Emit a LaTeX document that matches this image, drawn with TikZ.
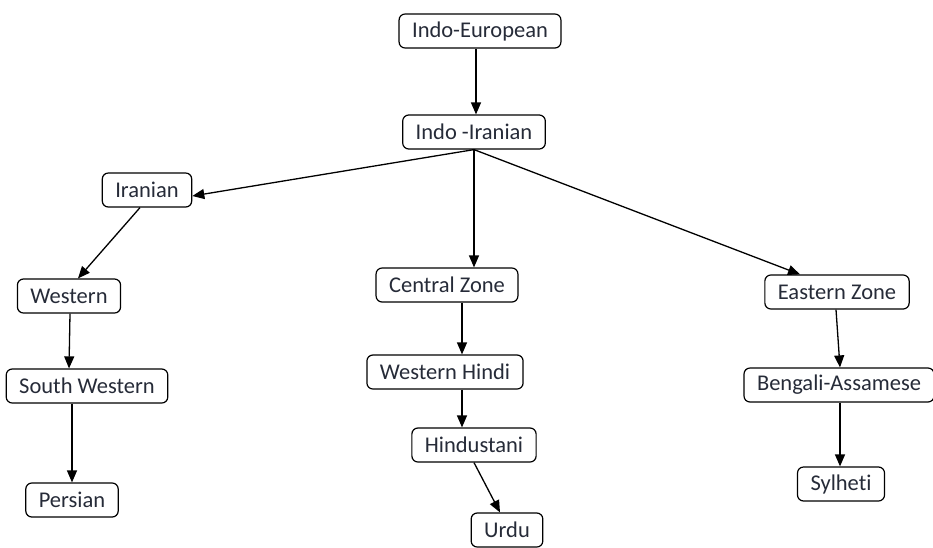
\documentclass[tikz,border=0pt]{standalone}
\usepackage{fontspec}
\setmainfont{Carlito}[Ligatures=NoCommon]
\usepackage{xcolor}
\usepackage{tikz}
\usetikzlibrary{arrows.meta}
\definecolor{ink}{HTML}{262B38}
\tikzset{
  box/.style={draw=black, line width=1.2pt, rounded corners=6pt, fill=white,
    text=ink, font=\fontsize{22.5}{26}\selectfont, inner xsep=13pt,
    minimum height=34pt, anchor=center},
  arr/.style={draw=black, line width=1.3pt,
    -{Triangle[length=12pt,width=10pt]}},
}
\begin{document}
\begin{tikzpicture}[x=1pt,y=-1pt]
  \useasboundingbox (0,0) rectangle (933,547);
  % nodes
  \node[box] (ie)    at (480,31)  {Indo-European};
  \node[box] (ii)    at (474,132) {Indo -Iranian};
  \node[box] (iran)  at (147,190) {Iranian};
  \node[box] (west)  at (69,296)  {Western};
  \node[box] (swest) at (87,386)  {South Western};
  \node[box] (pers)  at (72,500)  {Persian};
  \node[box] (cz)    at (447,285) {Central Zone};
  \node[box] (wh)    at (445,372) {Western Hindi};
  \node[box] (hind)  at (474,445) {Hindustani};
  \node[box] (urdu)  at (507,530) {Urdu};
  \node[box] (ez)    at (837,292) {Eastern Zone};
  \node[box] (ba)    at (839,385) {Bengali-Assamese};
  \node[box] (syl)   at (841,484) {Sylheti};
  % arrows
  \draw[arr] ([xshift=-4pt]ie.south) -- ([xshift=2pt]ii.north);
  \draw[arr] (ii.south) -- ([yshift=-6pt]iran.east);
  \draw[arr] (ii.south) -- (ii.south |- cz.north);
  \draw[arr] (ii.south) -- ([xshift=-37pt]ez.north);
  \draw[arr] ([xshift=-7pt]iran.south) -- ([xshift=9pt]west.north);
  \draw[arr] ([xshift=1pt]west.south) -- (west.south |- swest.north);
  \draw[arr] ([xshift=-15pt]swest.south) -- ([xshift=0pt]pers.north);
  \draw[arr] ([xshift=15pt]cz.south) -- ([xshift=15pt]cz.south |- wh.north);
  \draw[arr] ([xshift=17pt]wh.south) -- ([xshift=17pt]wh.south |- hind.north);
  \draw[arr] (hind.south) -- ([xshift=-7pt]urdu.north);
  \draw[arr] ([xshift=-1pt]ez.south) -- ([xshift=1pt]ba.north);
  \draw[arr] ([xshift=1pt]ba.south) -- ([xshift=-1pt]syl.north);
\end{tikzpicture}
\end{document}
